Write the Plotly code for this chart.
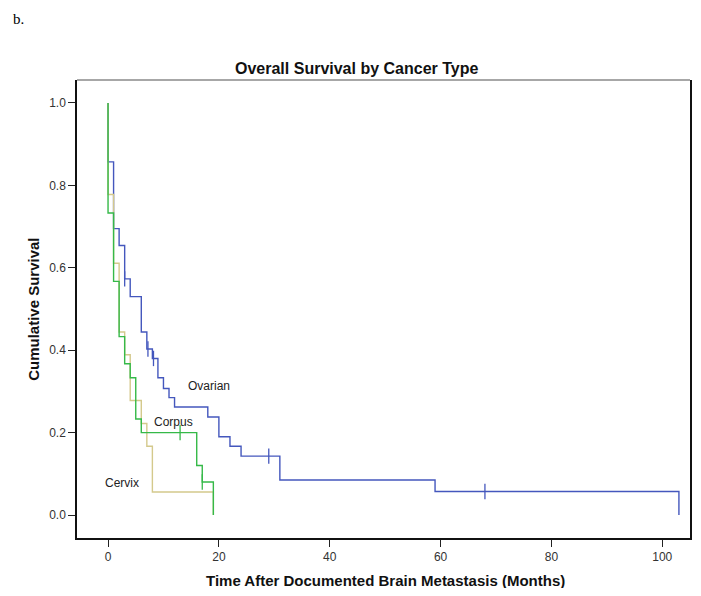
import plotly.graph_objects as go

# ---- data ----
ovarian_t = [0, 1, 2, 3, 4, 6, 7, 8, 9, 10, 11, 12, 18, 20, 22, 24, 31, 59, 103]
ovarian_s = [0.857, 0.695, 0.654, 0.573, 0.530, 0.444, 0.403, 0.380, 0.333, 0.307,
             0.285, 0.262, 0.238, 0.190, 0.167, 0.143, 0.085, 0.057, 0.0]
ovarian_cens_t = [3, 7.2, 8.2, 29, 68]
ovarian_cens_s = [0.573, 0.403, 0.380, 0.143, 0.057]

corpus_t = [0, 1, 2, 3, 4, 5, 6, 16, 17, 19]
corpus_s = [0.733, 0.567, 0.433, 0.367, 0.333, 0.233, 0.200, 0.120, 0.080, 0.0]
corpus_cens_t = [13, 17]
corpus_cens_s = [0.200, 0.080]

cervix_t = [0, 1, 2, 3, 4, 6, 7, 8, 19]
cervix_s = [0.778, 0.611, 0.444, 0.389, 0.278, 0.222, 0.167, 0.056, 0.0]

x_ticks = [0, 20, 40, 60, 80, 100]
y_ticks = [0.0, 0.2, 0.4, 0.6, 0.8, 1.0]

label_names = ["Ovarian", "Corpus", "Cervix"]
label_x = [18.3, 11.9, 2.6]
label_y = [0.313, 0.225, 0.078]

colors = {"Ovarian": "#4457bd", "Corpus": "#35b948", "Cervix": "#d4c98c"}
FONT = "Liberation Sans, Arial, sans-serif"

fig = go.Figure()


def add_curve(name, t, s, ct=None, cs=None):
    fig.add_trace(go.Scatter(
        x=[0] + t, y=[1.0] + s, mode="lines", line_shape="hv",
        line=dict(color=colors[name], width=1.4), name=name, showlegend=False,
        hoverinfo="skip"))
    if ct:
        fig.add_trace(go.Scatter(
            x=ct, y=cs, mode="markers",
            marker=dict(symbol="line-ns", size=11,
                        line=dict(color=colors[name], width=1.3)),
            showlegend=False, hoverinfo="skip"))


add_curve("Ovarian", ovarian_t, ovarian_s, ovarian_cens_t, ovarian_cens_s)
add_curve("Cervix", cervix_t, cervix_s)
add_curve("Corpus", corpus_t, corpus_s, corpus_cens_t, corpus_cens_s)

for n, lx, ly in zip(label_names, label_x, label_y):
    fig.add_annotation(x=lx, y=ly, text=n, showarrow=False,
                       font=dict(family=FONT, size=12, color="#222"))

fig.add_annotation(xref="paper", yref="paper", x=0.456, y=1.026, text="<b>Overall Survival by Cancer Type</b>",
                   showarrow=False, font=dict(family=FONT, size=16, color="#111"),
                   xanchor="center", yanchor="middle")
fig.add_annotation(xref="paper", yref="paper", x=0.503, y=-0.092,
                   text="<b>Time After Documented Brain Metastasis (Months)</b>",
                   showarrow=False, font=dict(family=FONT, size=15, color="#111"),
                   xanchor="center", yanchor="middle")
fig.add_annotation(xref="paper", yref="paper", x=-0.072, y=0.5,
                   text="<b>Cumulative Survival</b>", textangle=-90,
                   showarrow=False, font=dict(family=FONT, size=15, color="#111"),
                   xanchor="center", yanchor="middle")
fig.add_annotation(xref="paper", yref="paper", x=-0.108, y=1.156, text="b.",
                   showarrow=False, font=dict(family="Liberation Serif, Times New Roman, serif", size=15, color="#000"),
                   xanchor="left", yanchor="top")

# top frame line (gray in the reference)
fig.add_shape(type="line", xref="paper", yref="paper", x0=0, x1=1, y0=1, y1=1,
              line=dict(color="#8a8a8a", width=1.6))

fig.update_xaxes(range=[-5.6, 105.0], tickvals=x_ticks, ticktext=[str(v) for v in x_ticks],
                 ticks="outside", ticklen=7, tickwidth=1.3, tickcolor="#222",
                 showline=True, linecolor="#111", linewidth=1.5, mirror=False,
                 showgrid=False, zeroline=False,
                 tickfont=dict(family=FONT, size=12, color="#333"))
fig.update_yaxes(range=[-0.0558, 1.0558], tickvals=y_ticks, ticktext=[f"{v:.1f}" for v in y_ticks],
                 ticks="outside", ticklen=7, tickwidth=1.3, tickcolor="#222",
                 showline=True, linecolor="#111", linewidth=1.5, mirror=True,
                 showgrid=False, zeroline=False,
                 tickfont=dict(family=FONT, size=12, color="#333"))

# page body has an 8px margin: size/margins compensate so the plot lands where the reference has it
fig.update_layout(width=685, height=580, margin=dict(l=69, r=1, t=72, b=50),
                  plot_bgcolor="white", paper_bgcolor="white", showlegend=False)

fig.write_html("out.html")
